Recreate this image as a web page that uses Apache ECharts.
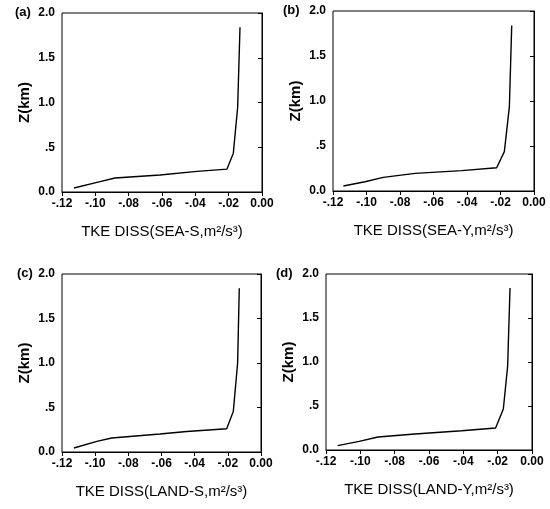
<!DOCTYPE html>
<html><head><meta charset="utf-8">
<script src="https://cdn.jsdelivr.net/npm/echarts@6/dist/echarts.min.js"></script>
<style>html,body{margin:0;padding:0;background:#fff}#c{width:550px;height:509px}</style>
</head><body><div id="c"></div>
<script>
const xTicks = [-0.12, -0.10, -0.08, -0.06, -0.04, -0.02, 0.00];
const xTickLabels = ['-.12', '-.10', '-.08', '-.06', '-.04', '-.02', '0.00'];
const yTickLabels = ['0.0', '.5', '1.0', '1.5', '2.0'];
const panelLabels = ['(a)', '(b)', '(c)', '(d)'];
const axisTitles = ['TKE DISS(SEA-S,m²/s³)', 'TKE DISS(SEA-Y,m²/s³)', 'TKE DISS(LAND-S,m²/s³)', 'TKE DISS(LAND-Y,m²/s³)'];

const zA = [0.045, 0.107, 0.156, 0.19, 0.23, 0.256, 0.434, 0.95, 1.84];
const xA = [-0.1128, -0.099, -0.0882, -0.0612, -0.039, -0.021, -0.0172, -0.0146, -0.0132];
const zB = [0.056, 0.103, 0.152, 0.196, 0.226, 0.259, 0.437, 0.937, 1.84];
const xB = [-0.1138, -0.1009, -0.090, -0.071, -0.0432, -0.0223, -0.0177, -0.0147, -0.0133];
const zC = [0.045, 0.119, 0.157, 0.202, 0.23, 0.262, 0.456, 1.0, 1.84];
const xC = [-0.1128, -0.099, -0.090, -0.061, -0.0448, -0.0207, -0.0167, -0.0141, -0.0131];
const zD = [0.049, 0.098, 0.148, 0.182, 0.219, 0.25, 0.466, 0.95, 1.84];
const xD = [-0.1132, -0.1007, -0.0897, -0.0682, -0.041, -0.0212, -0.0167, -0.0142, -0.0128];

const seriesX = [xA, xB, xC, xD];
const seriesZ = [zA, zB, zC, zD];

const grids = [
  {left: 62, top: 13, width: 200, height: 179},
  {left: 333, top: 11, width: 201, height: 180},
  {left: 62, top: 274, width: 199, height: 178},
  {left: 326, top: 274, width: 206, height: 176}
];
const labelPos = [[15, 6], [283, 4], [17, 267], [276, 267]];

const font = 'Liberation Sans, Arial, sans-serif';
const chart = echarts.init(document.getElementById('c'));
const option = {
  backgroundColor: '#fff',
  animation: false,
  grid: grids.map(g => Object.assign({show: true, borderColor: '#000', borderWidth: 1, backgroundColor: 'transparent', containLabel: false}, g)),
  title: panelLabels.map((t, i) => ({text: t, left: labelPos[i][0], top: labelPos[i][1], padding: 0,
    textStyle: {fontFamily: font, fontSize: 13, fontWeight: 'bold', color: '#000'}})),
  xAxis: grids.map((g, i) => ({
    type: 'value', gridIndex: i, min: -0.12, max: 0, interval: 0.02,
    name: axisTitles[i], nameLocation: 'middle', nameGap: 32,
    nameTextStyle: {fontFamily: font, fontSize: 15, color: '#000'},
    axisLine: {show: true, lineStyle: {color: '#000', width: 1}},
    axisTick: {show: true, inside: false, length: 4, lineStyle: {color: '#000'}},
    splitLine: {show: false},
    axisLabel: {margin: 6, fontFamily: font, fontSize: 12, fontWeight: 'bold', color: '#000',
      formatter: v => { const k = xTicks.findIndex(t => Math.abs(t - v) < 1e-9); return k >= 0 ? xTickLabels[k] : ''; }}
  })),
  yAxis: grids.map((g, i) => ({
    type: 'value', gridIndex: i, min: 0, max: 2, interval: 0.5,
    name: 'Z(km)', nameLocation: 'middle', nameGap: 30, nameRotate: 90,
    nameTextStyle: {fontFamily: font, fontSize: 15, fontWeight: 'bold', color: '#000'},
    axisLine: {show: true, lineStyle: {color: '#000', width: 1}},
    axisTick: {show: true, inside: false, length: 4, lineStyle: {color: '#000'}},
    splitLine: {show: false},
    axisLabel: {margin: 7, fontFamily: font, fontSize: 12, fontWeight: 'bold', color: '#000',
      formatter: v => yTickLabels[Math.round(v / 0.5)]}
  })),
  series: seriesX.map((xs, i) => ({
    type: 'line', xAxisIndex: i, yAxisIndex: i, showSymbol: false, symbol: 'none',
    lineStyle: {color: '#000', width: 1.4},
    data: xs.map((x, k) => [x, seriesZ[i][k]])
  }))
};
chart.setOption(option);
</script>
</body></html>
